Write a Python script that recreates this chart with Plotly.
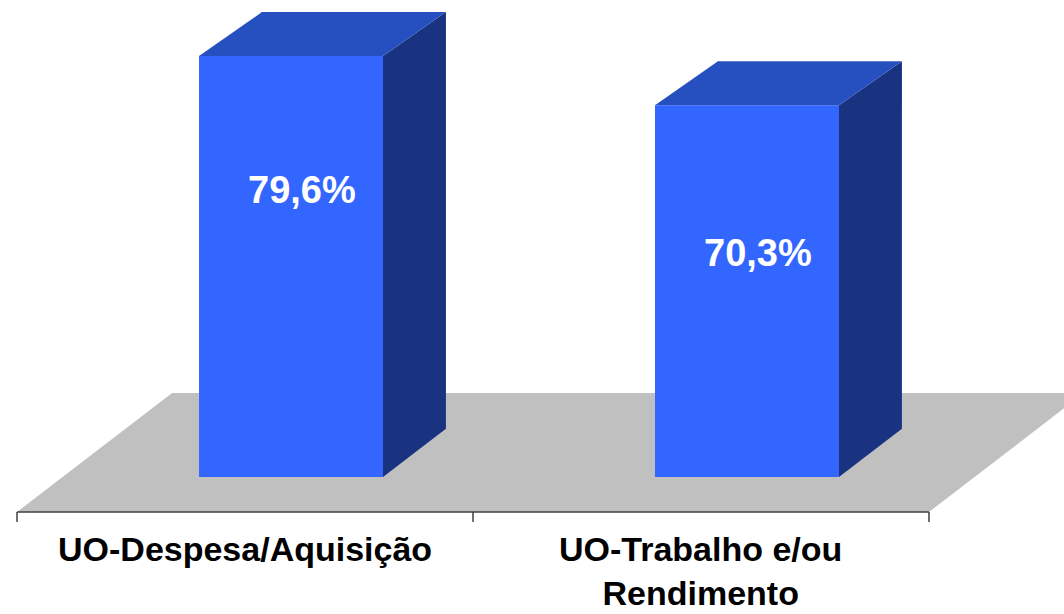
import plotly.graph_objects as go

# ---- data ----
categories = ["UO-Despesa/Aquisição", "UO-Trabalho e/ou<br>Rendimento"]
values = [79.6, 70.3]
value_labels = ["79,6%", "70,3%"]

# ---- styling / geometry constants ----
FRONT = "#3366FF"
TOP = "#2650BF"
SIDE = "#1A3380"
FLOOR = "#C0C0C0"
BAR_OFFSET = 0.1009      # front face centre offset from category position
BAR_W = 0.4035
DX = 0.138               # depth offset (x units)
DY_TOP = 8.3             # depth offset at top (y units)
DY_BOT = 9.1             # depth offset at bottom (y units)
X_RANGE = [-0.5373, 1.7961]
Y_RANGE = [-6.62, 90.19]

fig = go.Figure()

xs = list(range(len(categories)))
fronts = [x + BAR_OFFSET for x in xs]

# front faces
fig.add_trace(go.Bar(x=fronts, y=values, width=BAR_W, base=0,
                     marker=dict(color=FRONT, line=dict(width=0)),
                     hoverinfo="skip", showlegend=False))

# side and top faces
for xc, v in zip(fronts, values):
    l, r = xc - BAR_W / 2, xc + BAR_W / 2
    fig.add_trace(go.Scatter(
        x=[r, r + DX, r + DX, r, r], y=[v, v + DY_TOP, DY_BOT, 0, v],
        fill="toself", fillcolor=SIDE, mode="lines", line=dict(width=0),
        hoverinfo="skip", showlegend=False))
    fig.add_trace(go.Scatter(
        x=[l, r, r + DX, l + DX, l], y=[v, v, v + DY_TOP, v + DY_TOP, v],
        fill="toself", fillcolor=TOP, mode="lines", line=dict(width=0),
        hoverinfo="skip", showlegend=False))

shapes = []
# floor
n = len(categories)
fl, fr = -0.5, n - 0.5
shapes.append(dict(type="path", xref="x", yref="y", layer="below",
                   path=f"M {fl},{Y_RANGE[0]} L {fr},{Y_RANGE[0]} L {fr+0.34},15.88 L {fl+0.34},15.88 Z",
                   fillcolor=FLOOR, line=dict(width=0)))
# axis line + ticks
shapes.append(dict(type="line", xref="x", yref="paper", x0=fl, x1=fr, y0=0, y1=0,
                   line=dict(color="#404040", width=1.5)))
for i in range(n + 1):
    t = i - 0.5
    shapes.append(dict(type="line", xref="x", yref="paper", x0=t, x1=t, y0=0, y1=-10 / 512,
                       line=dict(color="#404040", width=1.5)))

annotations = []
for xc, v, lab in zip(fronts, values, value_labels):
    annotations.append(dict(x=xc + 0.025, y=1.29 * v - 48.4, xref="x", yref="y",
                            text=f"<b>{lab}</b>", showarrow=False,
                            font=dict(family="Liberation Sans, Arial", size=38, color="white"),
                            xanchor="center", yanchor="middle"))
for x, c in zip(xs, categories):
    annotations.append(dict(x=x, y=0, xref="x", yref="paper", yshift=-16,
                            text=f"<b>{c}</b>", showarrow=False,
                            font=dict(family="Liberation Sans, Arial", size=34, color="black"),
                            xanchor="center", yanchor="top"))

fig.update_layout(
    width=1064, height=614, autosize=False,
    margin=dict(l=0, r=0, t=0, b=102, pad=0),
    paper_bgcolor="white", plot_bgcolor="white",
    xaxis=dict(range=X_RANGE, visible=False, fixedrange=True),
    yaxis=dict(range=Y_RANGE, visible=False, fixedrange=True),
    shapes=shapes, annotations=annotations, showlegend=False,
)

fig.write_html("out.html", config={"displayModeBar": False},
               post_script="document.body.style.margin='0';")
